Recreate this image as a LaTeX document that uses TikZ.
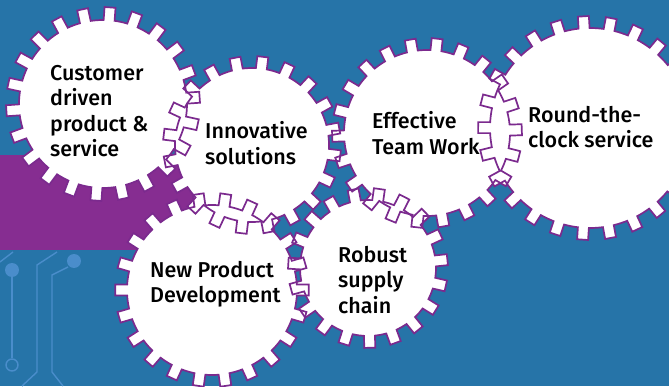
\documentclass[tikz,border=0pt]{standalone}
\usepackage{fontspec}
\setmainfont{Fira Sans}[UprightFont=* Medium]
\definecolor{bgblue}{HTML}{2674A8}
\definecolor{barpurple}{HTML}{862D91}
\definecolor{gearpurple}{HTML}{7B2A8E}
\definecolor{wireblue}{HTML}{4A8DCB}
% #1 style, #2 centre, #3 teeth, #4 root radius, #5 tip radius, #6 start angle
\newcommand{\gear}[6]{%
  \pgfmathsetmacro\rootoff{asin(5.5/#4)}%
  \pgfmathsetmacro\tipoff{asin(5.5/#5)}%
  \pgfmathsetmacro\pitch{360/#3}%
  \path[#1, shift={(#2)}] ({#6+\pitch-\rootoff}:#4pt)
    \foreach \k [evaluate=\k as \c using #6+\k*\pitch] in {1,...,#3} {
      -- ({\c-\rootoff}:#4pt) -- ({\c-\tipoff}:#5pt) -- ({\c+\tipoff}:#5pt) -- ({\c+\rootoff}:#4pt)
      arc[start angle={\c+\rootoff}, end angle={\c+\pitch-\rootoff}, radius=#4pt]
    } -- cycle;}

\begin{document}
\begin{tikzpicture}[x=1pt, y=1pt,
  gearfill/.style={fill=white},
  gearline/.style={draw=gearpurple, line width=1.7pt, line join=miter},
  geartext/.style={anchor=west, align=left, text=black, inner sep=0pt,
    font=\fontsize{21.5}{25.5}\selectfont},
  wire/.style={draw=wireblue, line width=1.4pt}]

	% background and bar
	\fill[bgblue] (0,0) rectangle (669,386);
	\useasboundingbox (0,0) rectangle (669,386);
	\clip (0,0) rectangle (669,386);
	\fill[barpurple] (0,136) rectangle (200,231);

	% circuit traces
	\draw[wire] (13,134) -- (0,124);
	\fill[wireblue] (12,116) circle (7);
	\draw[wire] (12,109) -- (12,28);
	\draw[wire] (12,21) circle (6);
	\draw[wire] (57,134) -- (37,121) -- (37,14) -- (22,0);
	\fill[wireblue] (74,125) circle (7);
	\draw[wire] (68,119) -- (52,111) -- (52,14) -- (63,0);

	% gear centres
	\coordinate (g1) at (103,282);
	\coordinate (g2) at (252,241);
	\coordinate (g3) at (427,253);
	\coordinate (g4) at (590,258);
	\coordinate (g5) at (212,96);
	\coordinate (g6) at (368,118);

	\foreach \st in {gearfill, gearline}
	  \foreach \g/\n/\r/\t/\s in {g1/22/84/97/4, g2/20/77/89/11, g3/22/83/95/2,
	                              g4/25/100/112/7, g5/22/85/97/0, g6/19/68/80/6}
	    \gear{\st}{\g}{\n}{\r}{\t}{\s};

	% labels
	\node[geartext] (customer) at (50,275) {Customer\\driven\\product \&\\service};
	\node[geartext] (innovative) at (205,243) {Innovative\\solutions};
	\node[geartext] (teamwork) at (372,253) {Effective\\Team Work};
	\node[geartext] (service) at (528,259) {Round-the-\\clock service};
	\node[geartext] (newproduct) at (150,102) {New Product\\Development};
	\node[geartext] (supply) at (338,106) {Robust\\supply\\chain};
\end{tikzpicture}
\end{document}
